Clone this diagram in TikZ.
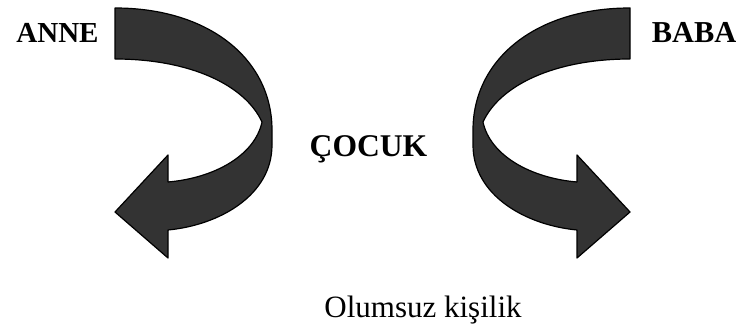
\documentclass[tikz,border=0pt]{standalone}
\usepackage{fontspec}
\setmainfont{Liberation Serif}
\usepackage{xcolor}
\usepackage{tikz}
\definecolor{ribbongray}{RGB}{51, 51, 51}
\newcommand{\ribbonpath}{(115,8) .. controls (210,8) and (272,60) .. (272,130) -- (272,145)
    .. controls (272,195) and (220,225) .. (168,230) -- (168,258) -- (115,212) -- (168,155) -- (168,182)
    .. controls (215,178) and (255,155) .. (262,122)
    .. controls (245,85) and (190,59) .. (115,59) -- cycle}

\begin{document}
\begin{tikzpicture}[x=0.5pt, y=-0.5pt]
    \useasboundingbox (0,0) rectangle (738,331);
    \draw[line width=0.6pt, line join=round, fill=ribbongray] \ribbonpath;
    \begin{scope}[xshift=372.5pt, xscale=-1]
        \draw[line width=0.6pt, line join=round, fill=ribbongray] \ribbonpath;
    \end{scope}
    \node[anchor=base, font=\fontsize{14.5}{17}\selectfont\bfseries] (anne) at (57.5,43) {ANNE};
    \node[anchor=base, font=\fontsize{15.2}{18}\selectfont\bfseries] (baba) at (694,43) {BABA};
    \node[anchor=base, font=\fontsize{15.8}{19}\selectfont\bfseries] (cocuk) at (368.5,157) {ÇOCUK};
    \node[anchor=base, font=\fontsize{15.5}{18}\selectfont] (olumsuz) at (423,317) {Olumsuz kişilik};
\end{tikzpicture}
\end{document}
